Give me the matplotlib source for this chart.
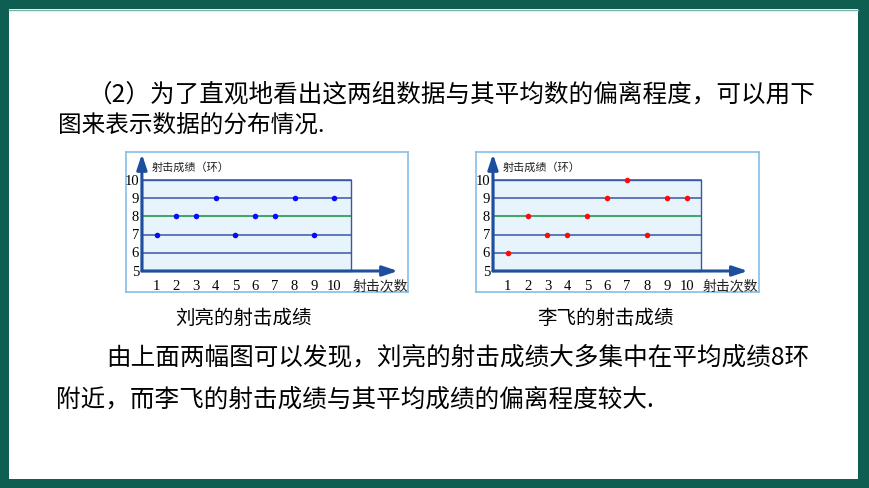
import matplotlib
matplotlib.use("Agg")
import matplotlib.pyplot as plt
from matplotlib.patches import Rectangle

plt.rcParams['font.family'] = ['Noto Sans CJK SC', 'DejaVu Sans']

# ---- data ----
shots = [1, 2, 3, 4, 5, 6, 7, 8, 9, 10]
liu_scores = [7, 8, 8, 9, 7, 8, 8, 9, 7, 9]
li_scores = [6, 8, 7, 7, 8, 9, 10, 7, 9, 9]
score_ticks = [5, 6, 7, 8, 9, 10]
mean_score = 8
y_label = "射击成绩（环）"
x_label = "射击次数"
liu_title = "刘亮的射击成绩"
li_title = "李飞的射击成绩"
para1 = "（2）为了直观地看出这两组数据与其平均数的偏离程度，可以用下"
para2 = "图来表示数据的分布情况."
para3 = "由上面两幅图可以发现，刘亮的射击成绩大多集中在平均成绩8环"
para4 = "附近，而李飞的射击成绩与其平均成绩的偏离程度较大."

W, H = 870, 489
fig = plt.figure(figsize=(W / 100, H / 100), dpi=100)
fig.patch.set_facecolor('#0e5f52')

def fx(px):
    return px / W

def fy(py):
    return 1 - py / H

# white page
bg = fig.add_axes([0, 0, 1, 1])
bg.set_xlim(0, W)
bg.set_ylim(H, 0)
bg.axis('off')
bg.add_patch(Rectangle((9, 10), 849, 470, facecolor='white', edgecolor='none'))
bg.plot([9, 858], [10.5, 10.5], color='#7fb0a8', lw=1)

GRID = '#3a56a6'
GREEN = '#119040'
ARROW = '#1d4f9e'
FILL = '#e8f4fc'
BOX = '#86bde8'
SERIF = ['Liberation Serif', 'DejaVu Serif']


def draw_chart(box_px, xlim, ylim, area_x, arrow_x_end, arrow_y_end, scores, color):
    l, r, t, b = box_px
    ax = fig.add_axes([fx(l), fy(b), fx(r) - fx(l), fy(t) - fy(b)])
    ax.set_xlim(*xlim)
    ax.set_ylim(*ylim)
    ax.set_xticks([])
    ax.set_yticks([])
    for s in ax.spines.values():
        s.set_color(BOX)
        s.set_linewidth(1.2)
    y0, y1 = score_ticks[0], score_ticks[-1]
    ax.add_patch(Rectangle((area_x[0], y0), area_x[1] - area_x[0], y1 - y0,
                           facecolor=FILL, edgecolor=GRID, lw=1.0, zorder=1))
    for v in score_ticks[1:]:
        c = GREEN if v == mean_score else GRID
        ax.plot(area_x, [v, v], color=c, lw=1.1, zorder=2)
    # axes arrows
    ax.annotate('', xy=(arrow_x_end, y0), xytext=(area_x[0], y0),
                arrowprops=dict(arrowstyle='-|>,head_length=0.9,head_width=0.3',
                                color=ARROW, lw=2.2, shrinkA=0, shrinkB=0), zorder=4)
    ax.annotate('', xy=(area_x[0], arrow_y_end), xytext=(area_x[0], y0),
                arrowprops=dict(arrowstyle='-|>,head_length=0.9,head_width=0.3',
                                color=ARROW, lw=2.2, shrinkA=0, shrinkB=0), zorder=4)
    ax.scatter(shots, scores, s=16, color=color, zorder=5, linewidths=0)
    for v in score_ticks:
        ax.text(area_x[0] - 0.15, v, str(v), ha='right', va='center',
                fontsize=10.5, family=SERIF)
    for x in shots:
        ax.text(x, 4.22, str(x), ha='center', va='center', fontsize=10.5, family=SERIF)
    ax.text(area_x[1] + 0.08, 4.22, x_label, ha='left', va='center', fontsize=10,
            color='#222222')
    ax.text(area_x[0] + 0.5, 10.72, y_label, ha='left', va='center', fontsize=8,
            color='#222222')
    return ax


draw_chart((126, 408, 153, 293), (-0.558, 13.76), (3.846, 11.54), (0.25, 10.85),
           13.25, 11.43, liu_scores, '#0a0aff')
draw_chart((476, 759, 153, 293), (-0.593, 13.63), (3.846, 11.54), (0.26, 10.71),
           13.07, 11.43, li_scores, '#ff0a0a')

fs = 17.7
fig.text(fx(88), fy(95), para1, ha='left', va='center', fontsize=fs)
fig.text(fx(58), fy(125), para2, ha='left', va='center', fontsize=17)
fig.text(fx(106), fy(357), para3, ha='left', va='center', fontsize=fs)
fig.text(fx(56), fy(400), para4, ha='left', va='center', fontsize=fs)
fig.text(fx(243), fy(318), liu_title, ha='center', va='center', fontsize=14)
fig.text(fx(606), fy(318), li_title, ha='center', va='center', fontsize=14)

fig.savefig('out.png', dpi=100, facecolor=fig.get_facecolor())
